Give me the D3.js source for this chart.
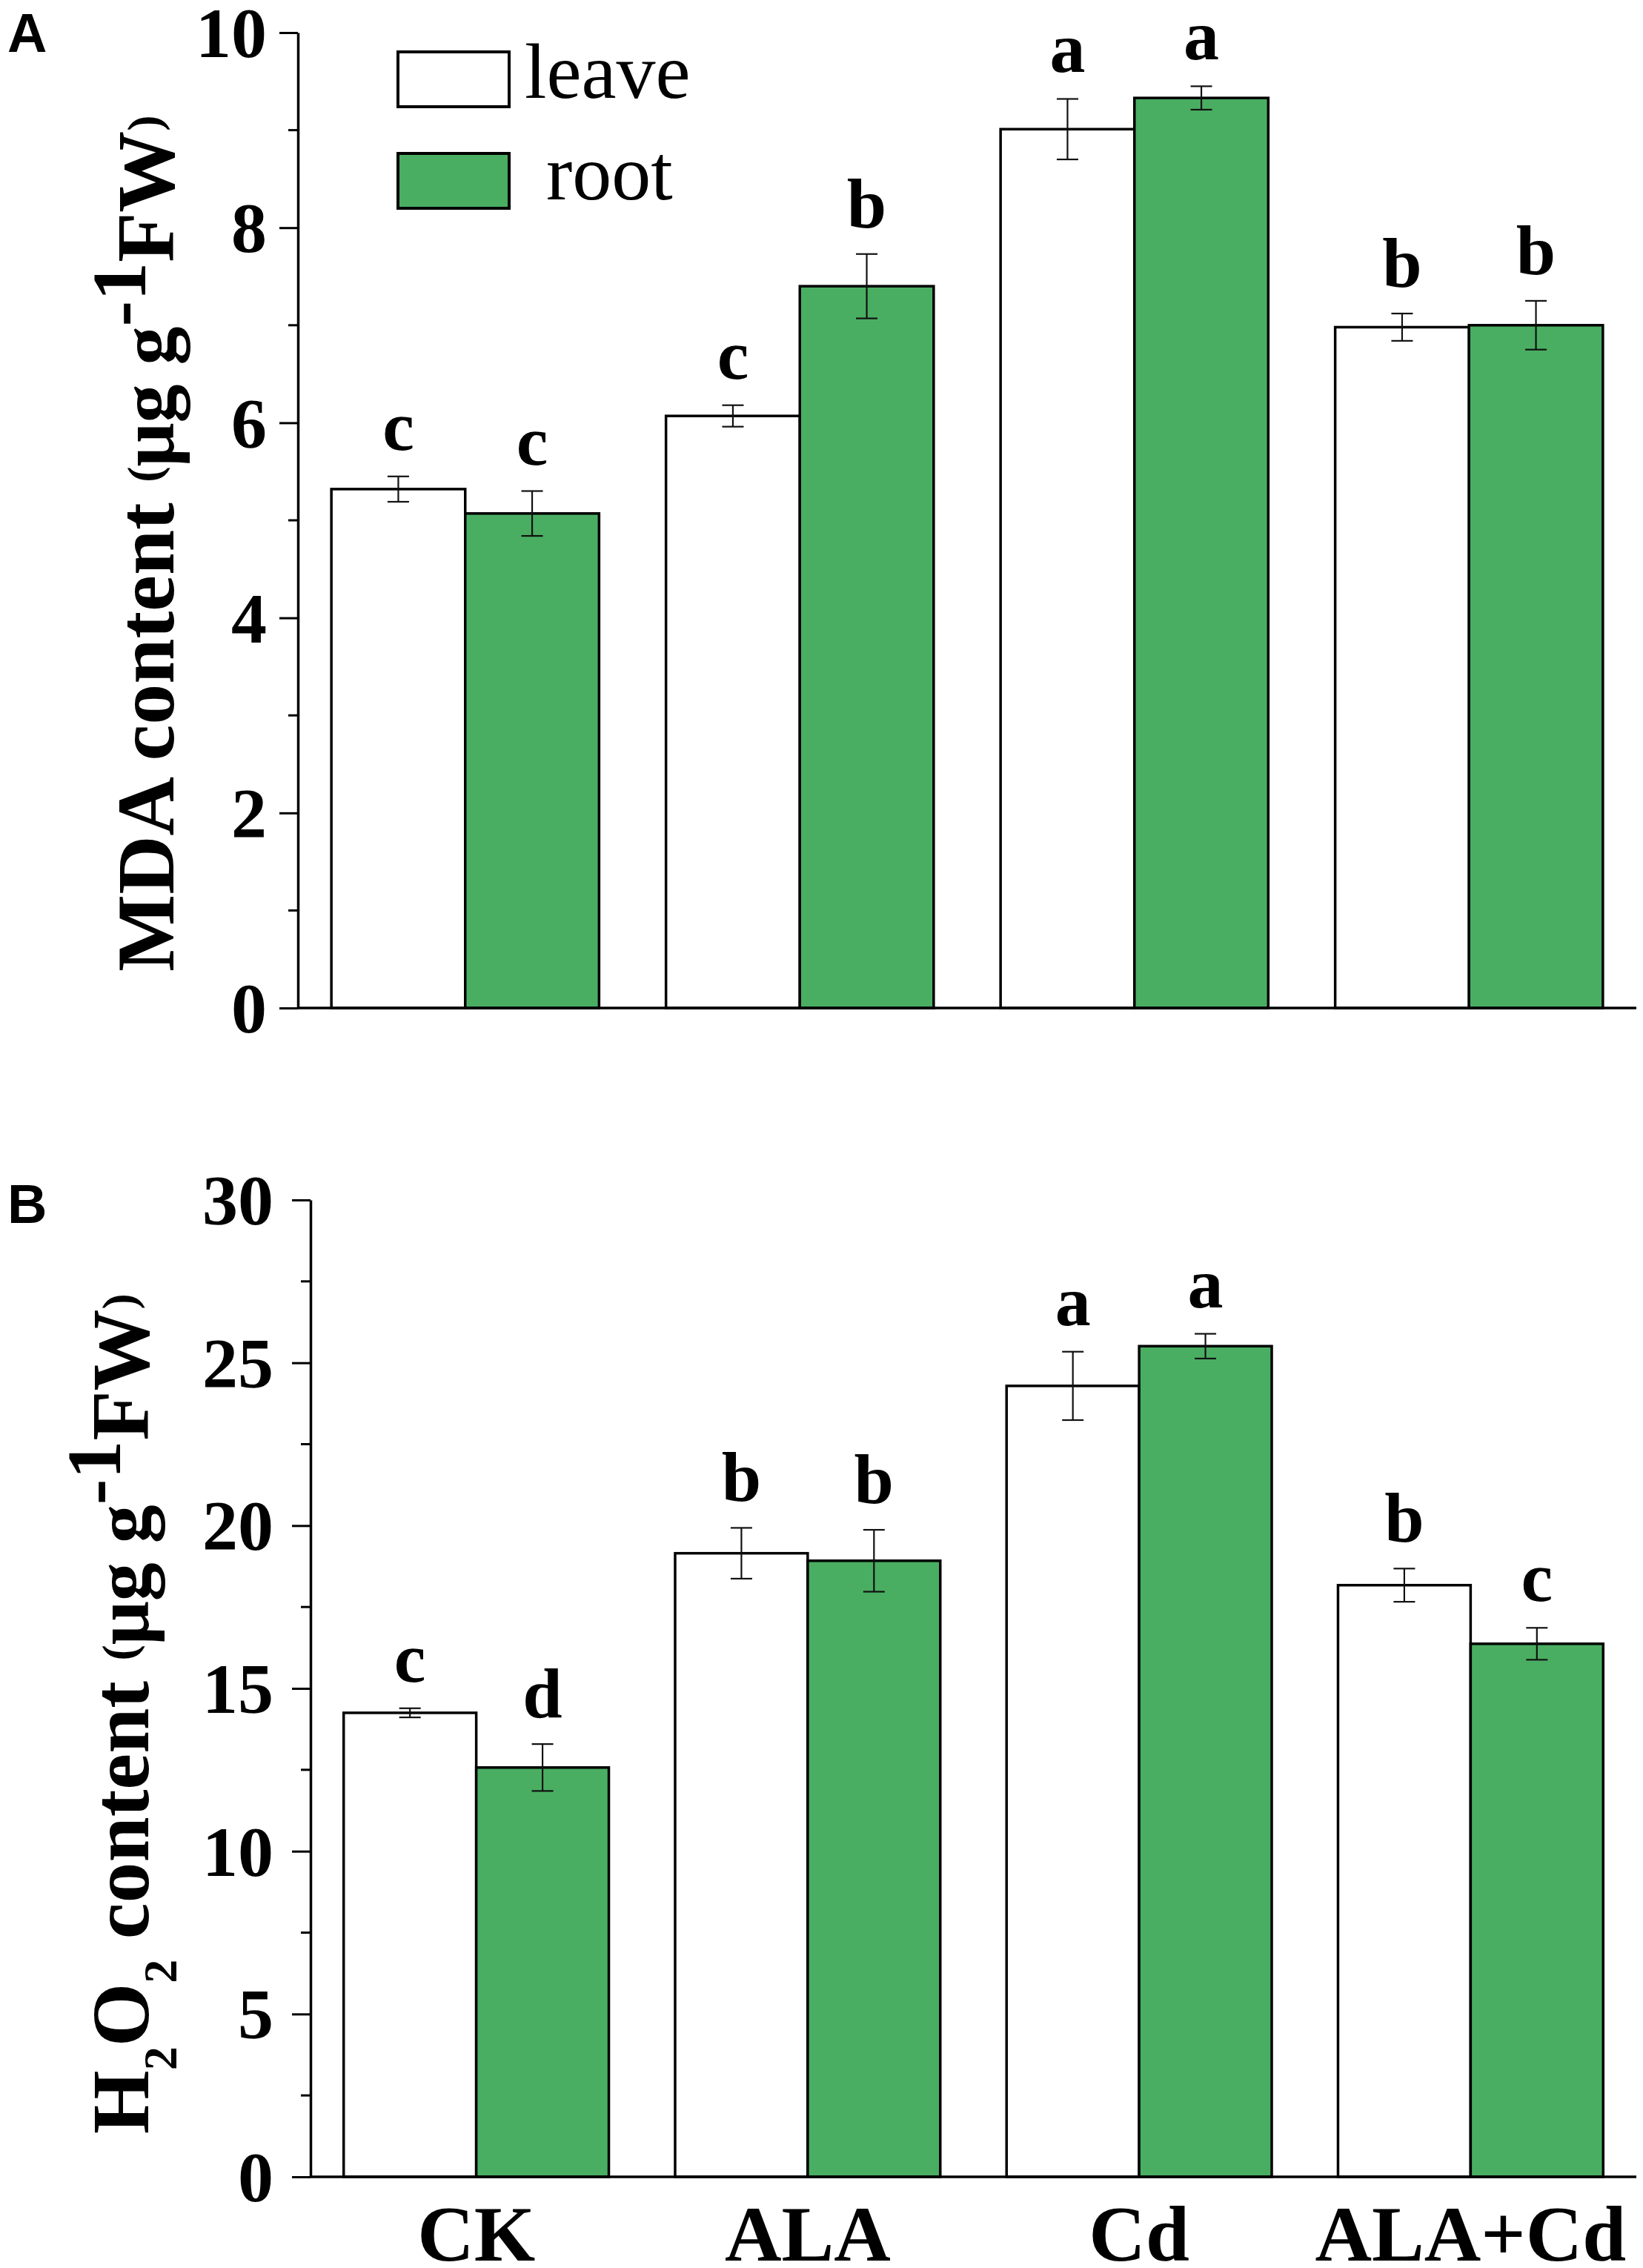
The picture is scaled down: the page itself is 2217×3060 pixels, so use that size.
<!DOCTYPE html>
<html>
<head>
<meta charset="utf-8">
<script src="https://cdn.jsdelivr.net/npm/d3@7"></script>
<style>
  body { margin: 0; background: #fff; }
  svg { display: block; }
</style>
</head>
<body>
<div id="chart"></div>
<script>
// data
var groups = ["CK", "ALA", "Cd", "ALA+Cd"];
var series = ["leave", "root"];
var seriesFill = ["#ffffff", "#4aae62"];

var mdaLeave    = [5.32, 6.07, 9.01, 6.98];
var mdaRoot     = [5.07, 7.40, 9.33, 7.00];
var mdaLeaveErr = [0.13, 0.11, 0.31, 0.14];
var mdaRootErr  = [0.23, 0.33, 0.12, 0.25];
var mdaLeaveSig = ["c", "c", "a", "b"];
var mdaRootSig  = ["c", "b", "a", "b"];
var mdaTicks    = [0, 2, 4, 6, 8, 10];

var h2o2Leave    = [14.25, 19.15, 24.29, 18.17];
var h2o2Root     = [12.57, 18.92, 25.51, 16.37];
var h2o2LeaveErr = [0.14, 0.78, 1.05, 0.51];
var h2o2RootErr  = [0.72, 0.95, 0.38, 0.49];
var h2o2LeaveSig = ["c", "b", "a", "b"];
var h2o2RootSig  = ["d", "b", "a", "c"];
var h2o2Ticks    = [0, 5, 10, 15, 20, 25, 30];

var W = 2217, H = 3060;
var serif = "'Liberation Serif', 'Times New Roman', serif";
var sans = "'Liberation Sans', Arial, sans-serif";

var svg = d3.select("#chart").append("svg")
    .attr("width", W).attr("height", H)
    .attr("viewBox", [0, 0, W, H]);

function rows(leave, root, leaveErr, rootErr, leaveSig, rootSig) {
    return groups.map(function(g, i) {
        return {
            group: g,
            bars: [
                {key: "leave", value: leave[i], err: leaveErr[i], sig: leaveSig[i]},
                {key: "root",  value: root[i],  err: rootErr[i],  sig: rootSig[i]}
            ]
        };
    });
}

function panel(opts) {
    var g = svg.append("g");

    var x = d3.scaleBand().domain(groups)
        .range([opts.x0, opts.x1]).paddingInner(0.2).paddingOuter(0.1);
    var xs = d3.scaleBand().domain(series).range([0, x.bandwidth()]);
    var y = d3.scaleLinear().domain(opts.domain).range([opts.y0, opts.y1]);
    var fill = d3.scaleOrdinal().domain(series).range(seriesFill);

    // bars
    var grp = g.selectAll("g.grp").data(opts.data).join("g")
        .attr("class", "grp")
        .attr("transform", function(d) { return "translate(" + x(d.group) + ",0)"; });

    grp.selectAll("rect").data(function(d) { return d.bars; }).join("rect")
        .attr("x", function(d) { return xs(d.key); })
        .attr("y", function(d) { return y(d.value); })
        .attr("width", xs.bandwidth())
        .attr("height", function(d) { return y(0) - y(d.value); })
        .attr("fill", function(d) { return fill(d.key); })
        .attr("stroke", "#000").attr("stroke-width", 3.5);

    // error bars
    var cap = 14.5;
    var eb = grp.selectAll("g.err").data(function(d) { return d.bars; }).join("g")
        .attr("class", "err")
        .attr("transform", function(d) { return "translate(" + (xs(d.key) + xs.bandwidth() / 2) + ",0)"; })
        .attr("stroke", "#111").attr("stroke-width", 2.2);
    eb.append("line")
        .attr("y1", function(d) { return y(d.value + d.err); })
        .attr("y2", function(d) { return y(d.value - d.err); });
    eb.append("line").attr("x1", -cap).attr("x2", cap)
        .attr("y1", function(d) { return y(d.value + d.err); })
        .attr("y2", function(d) { return y(d.value + d.err); });
    eb.append("line").attr("x1", -cap).attr("x2", cap)
        .attr("y1", function(d) { return y(d.value - d.err); })
        .attr("y2", function(d) { return y(d.value - d.err); });

    // significance letters
    grp.selectAll("text.sig").data(function(d) { return d.bars; }).join("text")
        .attr("class", "sig")
        .attr("x", function(d) { return xs(d.key) + xs.bandwidth() / 2; })
        .attr("y", function(d) { return y(d.value + d.err) - 36; })
        .attr("text-anchor", "middle")
        .style("font-family", serif).style("font-weight", "bold").style("font-size", "96px")
        .text(function(d) { return d.sig; });

    // y axis with major + minor ticks
    var yAxis = g.append("g").attr("transform", "translate(" + opts.x0 + ",0)")
        .call(d3.axisLeft(y).tickValues(opts.ticks).tickSize(25).tickSizeOuter(0)
            .tickPadding(opts.pad).tickFormat(d3.format("d")));
    yAxis.select(".domain").attr("stroke-width", 3.5);
    yAxis.selectAll(".tick line").attr("stroke-width", 3);
    yAxis.selectAll(".tick text")
        .style("font-family", serif).style("font-weight", "bold").style("font-size", "96px")
        .attr("dy", "0.34em");

    var minor = d3.range(opts.domain[0] + opts.minor, opts.domain[1], opts.minor * 2);
    g.append("g").selectAll("line").data(minor).join("line")
        .attr("x1", opts.x0 - 13).attr("x2", opts.x0)
        .attr("y1", function(d) { return y(d); }).attr("y2", function(d) { return y(d); })
        .attr("stroke", "#000").attr("stroke-width", 3);

    // x axis line
    g.append("line").attr("x1", opts.x0).attr("x2", opts.x1)
        .attr("y1", y(0)).attr("y2", y(0))
        .attr("stroke", "#000").attr("stroke-width", 3.5);

    // axis title (rotated), built from pieces
    var t = g.append("text")
        .attr("transform", "translate(" + opts.titleX + "," + opts.titleY + ") rotate(-90)")
        .attr("text-anchor", "middle")
        .style("font-family", serif).style("font-weight", "bold");
    opts.title.forEach(function(p) {
        t.append("tspan").style("font-size", p.size + "px")
            .attr("dy", p.dy || 0).text(p.text);
    });

    // panel letter
    svg.append("text").attr("x", 10).attr("y", opts.letterY)
        .style("font-family", sans).style("font-weight", "bold").style("font-size", "74px")
        .text(opts.letter);

    return {x: x, y: y};
}

var unitPieces = [
    {text: "(", size: 64, dy: -18},
    {text: "\u03bcg g", size: 104, dy: 18},
    {text: "-1", size: 104, dy: -38},
    {text: "FW", size: 110, dy: 38},
    {text: ")", size: 64, dy: -18}
];

var pA = panel({
    data: rows(mdaLeave, mdaRoot, mdaLeaveErr, mdaRootErr, mdaLeaveSig, mdaRootSig),
    x0: 402, x1: 2208, y0: 1360, y1: 44, domain: [0, 10],
    ticks: mdaTicks, minor: 1, pad: 17,
    titleX: 234, titleY: 733,
    title: [{text: "MDA content ", size: 110}].concat(unitPieces),
    letter: "A", letterY: 70
});

var pB = panel({
    data: rows(h2o2Leave, h2o2Root, h2o2LeaveErr, h2o2RootErr, h2o2LeaveSig, h2o2RootSig),
    x0: 419, x1: 2208, y0: 2937, y1: 1619, domain: [0, 30],
    ticks: h2o2Ticks, minor: 2.5, pad: 25,
    titleX: 200, titleY: 2312,
    title: [
        {text: "H", size: 110},
        {text: "2", size: 64, dy: 38},
        {text: "O", size: 110, dy: -38},
        {text: "2", size: 64, dy: 38},
        {text: " content ", size: 110, dy: -38}
    ].concat(unitPieces),
    letter: "B", letterY: 1650
});

// category labels under panel B
svg.append("g").selectAll("text").data(groups).join("text")
    .attr("x", function(d) { return pB.x(d) + pB.x.bandwidth() / 2; })
    .attr("y", 3050)
    .attr("text-anchor", "middle")
    .style("font-family", serif).style("font-weight", "bold").style("font-size", "106px")
    .text(function(d) { return d; });

// legend in panel A
var legend = svg.append("g").selectAll("g").data(series).join("g")
    .attr("transform", function(d, i) { return "translate(537," + (70 + i * 137) + ")"; });
legend.append("rect").attr("width", 150).attr("height", 74)
    .attr("fill", function(d, i) { return seriesFill[i]; })
    .attr("stroke", "#000").attr("stroke-width", 4);
legend.append("text")
    .attr("x", function(d, i) { return i === 0 ? 171 : 200; })
    .attr("y", 62)
    .style("font-family", serif).style("font-size", "106px")
    .text(function(d) { return d; });
</script>
</body>
</html>
